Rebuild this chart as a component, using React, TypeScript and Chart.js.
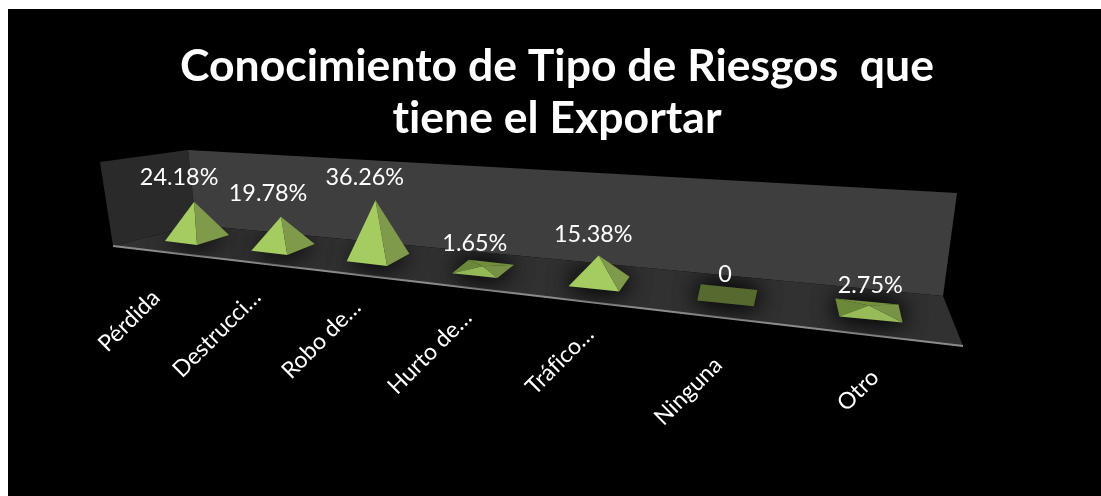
import React, { useEffect, useRef } from "react";
import { Chart, registerables } from "chart.js";

Chart.register(...registerables);

const categories = ["Pérdida", "Destrucci…", "Robo de…", "Hurto de…", "Tráfico…", "Ninguna", "Otro"];
const values = [24.18, 19.78, 36.26, 1.65, 15.38, 0, 2.75];
const titleLines = ["Conocimiento de Tipo de Riesgos  que", "tiene el Exportar"];

// Perspective of the 3D box (layout only)
const X0 = 197, STEP0 = 86, RATIO = 1.105, FLOOR_Y0 = 238, FLOOR_SLOPE = 0.108;
const tickDX = [-41, -26, -21, -15, -9, -9, 6];
const tickDY = [56, 46, 46, 45, 49, 66, 63];

type P = [number, number];
const project = (u: number): P => {
  const x = X0 + (STEP0 * (Math.pow(RATIO, u) - 1)) / (RATIO - 1);
  return [x, FLOOR_Y0 + FLOOR_SLOPE * (x - X0)];
};
const indexOf = (chart: any, px: number) => {
  const s = chart.scales.x;
  const a = s.getPixelForValue(0);
  const b = s.getPixelForValue(1);
  return (px - a) / (b - a);
};
const mix = (a: number[], b: number[], t: number) =>
  `rgb(${a.map((c, i) => Math.round(c + (b[i] - c) * t)).join(",")})`;
const poly = (ctx: CanvasRenderingContext2D, pts: P[], fill: string) => {
  ctx.beginPath();
  pts.forEach((p, i) => (i ? ctx.lineTo(p[0], p[1]) : ctx.moveTo(p[0], p[1])));
  ctx.closePath();
  ctx.fillStyle = fill;
  ctx.fill();
};

const floor: P[] = [[113, 246], [196, 225], [943, 296], [963, 346]];
const boxPlugin = {
  id: "box",
  beforeDraw(chart: any) {
    const ctx: CanvasRenderingContext2D = chart.ctx;
    (ctx as any).letterSpacing = "0.01px"; // turns off the Lato "ti"/"fi" ligatures
    ctx.save();
    ctx.fillStyle = "#fff";
    ctx.fillRect(0, 0, chart.width, chart.height);
    ctx.fillStyle = "#000";
    ctx.fillRect(8, 9, chart.width - 8, chart.height - 9);
    poly(ctx, [[100, 162], [188, 150], [196, 225], [113, 246]], "#2a2a2a");
    poly(ctx, [[188, 150], [957, 193], [943, 296], [196, 225]], "#3e3e3e");
    poly(ctx, floor, "#313131");
    ctx.beginPath();
    ctx.moveTo(113, 246);
    ctx.lineTo(963, 346);
    ctx.strokeStyle = "#8c8c8c";
    ctx.lineWidth = 2;
    ctx.stroke();
    ctx.restore();
    // Move the library's own tick labels along the slanted floor edge
    const xs = chart.scales.x;
    xs.getLabelItems(chart.chartArea).forEach((item: any, i: number) => {
      const [px, py] = project(i);
      item.options.translation = [px + tickDX[i], py + tickDY[i]];
      item.options.textAlign = "right";
      item.options.textBaseline = "middle";
      item.textOffset = 0;
    });
  },
};

const pyramidPlugin = {
  id: "pyramids",
  afterDatasetsDraw(chart: any) {
    const ctx: CanvasRenderingContext2D = chart.ctx;
    const meta = chart.getDatasetMeta(0);
    const ys = chart.scales.y;
    const perUnit = ys.getPixelForValue(0) - ys.getPixelForValue(1);
    meta.data.forEach((bar: any, i: number) => {
      const [cx, cy] = project(indexOf(chart, bar.x));
      const d = cx - X0;
      const d1: P = [32 - d * 0.0037, -3 - d * 0.0044];
      const d2: P = [d * 0.05, 7 + d * 0.0074];
      const left: P = [cx - d1[0], cy - d1[1]];
      const right: P = [cx + d1[0], cy + d1[1]];
      const front: P = [cx + d2[0], cy + d2[1]];
      const back: P = [cx - d2[0], cy - d2[1]];
      const h = ((bar.base - bar.y) / perUnit) * (1.5 + d * 0.00045);
      const apex: P = [cx - 4 * Math.min(1, h / 50) * (1 - d / 500), cy - h];

      // soft shadow on the floor
      ctx.save();
      ctx.beginPath();
      floor.forEach((p, k) => (k ? ctx.lineTo(p[0], p[1]) : ctx.moveTo(p[0], p[1])));
      ctx.closePath();
      ctx.clip();
      ctx.shadowColor = "rgba(0,0,0,0.9)";
      ctx.shadowBlur = 24;
      poly(ctx, [left, front, right, back], "#222");
      poly(ctx, [left, front, right, back], "#222");
      ctx.restore();

      if (h <= 0) {
        poly(ctx, [left, front, right, back], "rgb(86,106,48)");
      } else {
        const dark = [86, 106, 48];
        const t = 0.75 + 0.25 * Math.min(1, h / 16);
        if (h < 10) {
          poly(ctx, [apex, back, left], mix(dark, [112, 144, 60], t));
          poly(ctx, [apex, right, back], mix(dark, [120, 152, 64], t));
        }
        poly(ctx, [apex, left, front], mix(dark, [165, 204, 96], t));
        poly(ctx, [apex, front, right], mix(dark, [127, 154, 74], t));
      }

      // value label above the apex
      ctx.save();
      ctx.font = "23.4px Lato";
      ctx.fillStyle = "#fff";
      ctx.textAlign = "center";
      ctx.textBaseline = "middle";
      const v = values[i];
      const text = v === 0 ? "0" : v.toFixed(2) + "%";
      ctx.fillText(text, apex[0] - 15 + d * 0.024, apex[1] - 24 + d * 0.006);
      ctx.restore();
    });
  },
};

export default function App() {
  const ref = useRef<HTMLCanvasElement>(null);
  useEffect(() => {
    const chart = new Chart(ref.current!, {
      type: "bar",
      data: {
        labels: categories,
        datasets: [{ data: values, backgroundColor: "transparent", borderWidth: 0 }],
      },
      plugins: [boxPlugin, pyramidPlugin],
      options: {
        animation: false,
        responsive: false,
        events: [],
        layout: { padding: { left: 13, right: 0, top: 0, bottom: 0 } },
        plugins: {
          legend: { display: false },
          tooltip: { enabled: false },
          title: {
            display: true,
            text: titleLines,
            color: "#fff",
            font: { family: "Lato", size: 44.5, weight: "bold", lineHeight: 1.17 },
            padding: { top: 41, bottom: 10 },
          },
        },
        scales: {
          x: {
            grid: { display: false },
            border: { display: false },
            ticks: {
              autoSkip: false,
              mirror: true,
              minRotation: 45,
              maxRotation: 45,
              color: "#fff",
              font: { family: "Lato", size: 23 },
            },
          },
          y: { display: false, min: 0, max: 40 },
        },
      },
    } as any);
    return () => chart.destroy();
  }, []);
  return (
    <div style={{ position: "fixed", left: 0, top: 0, width: 1101, height: 496 }}>
      <canvas ref={ref} width={1101} height={496} style={{ display: "block" }} />
    </div>
  );
}
